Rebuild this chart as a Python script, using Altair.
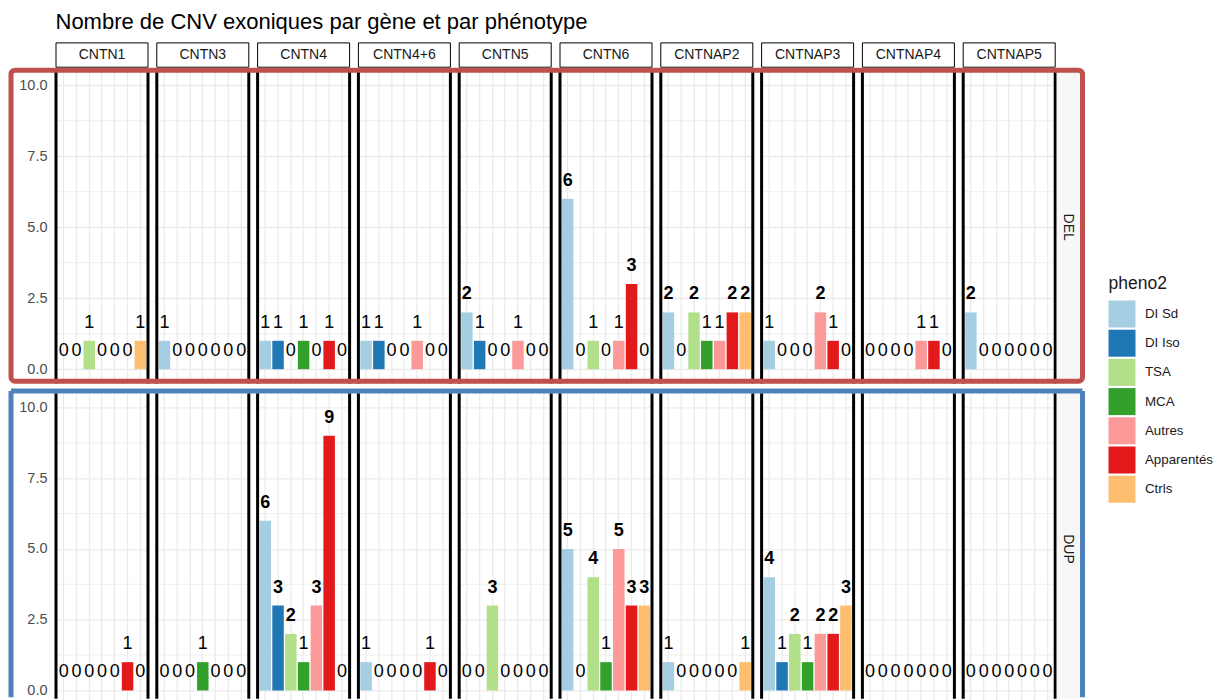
import altair as alt
import pandas as pd

genes = ["CNTN1", "CNTN3", "CNTN4", "CNTN4+6", "CNTN5", "CNTN6",
         "CNTNAP2", "CNTNAP3", "CNTNAP4", "CNTNAP5"]
phenos = ["DI Sd", "DI Iso", "TSA", "MCA", "Autres", "Apparentés", "Ctrls"]
pheno_colors = ["#A6CEE3", "#1F78B4", "#B2DF8A", "#33A02C",
                "#FB9A99", "#E31A1C", "#FDBF6F"]

del_counts = [
    [0, 0, 1, 0, 0, 0, 1],
    [1, 0, 0, 0, 0, 0, 0],
    [1, 1, 0, 1, 0, 1, 0],
    [1, 1, 0, 0, 1, 0, 0],
    [2, 1, 0, 0, 1, 0, 0],
    [6, 0, 1, 0, 1, 3, 0],
    [2, 0, 2, 1, 1, 2, 2],
    [1, 0, 0, 0, 2, 1, 0],
    [0, 0, 0, 0, 1, 1, 0],
    [2, 0, 0, 0, 0, 0, 0],
]
dup_counts = [
    [0, 0, 0, 0, 0, 1, 0],
    [0, 0, 0, 1, 0, 0, 0],
    [6, 3, 2, 1, 3, 9, 0],
    [1, 0, 0, 0, 0, 1, 0],
    [0, 0, 3, 0, 0, 0, 0],
    [5, 0, 4, 1, 5, 3, 3],
    [1, 0, 0, 0, 0, 0, 1],
    [4, 1, 2, 1, 2, 2, 3],
    [0, 0, 0, 0, 0, 0, 0],
    [0, 0, 0, 0, 0, 0, 0],
]
row_types = ["DEL", "DUP"]
y_ticks = [0, 2.5, 5, 7.5, 10]
y_minor = [1.25, 3.75, 6.25, 8.75]
title_text = "Nombre de CNV exoniques par gène et par phénotype"
legend_title = "pheno2"

rows = []
for t, counts in zip(row_types, [del_counts, dup_counts]):
    for g, vals in zip(genes, counts):
        for p, n in zip(phenos, vals):
            rows.append({"type": t, "gene": g, "pheno": p, "n": n})
df = pd.DataFrame(rows)

# ---- layout constants (pixels) ----
W = 92
SPACING = 8.8
STEP = W + SPACING
PX_DEL = 28.4
PX_DUP = 28.3
DOM_DEL = [-0.5, 10.5]
DOM_DUP = [-0.35, 10.5]
H_DEL = (DOM_DEL[1] - DOM_DEL[0]) * PX_DEL
H_DUP = (DOM_DUP[1] - DOM_DUP[0]) * PX_DUP
VSPACE = 3.3
L0 = 56.0
LAST_LEFT = L0 + 9 * STEP
T_DEL = 70.8
T_DUP = 392.85
BOX_L = 11.0
BOX_R = 1082.5

GRID = "#EBEBEB"
FONT = "Liberation Sans"

color_enc = alt.Color(
    "pheno:N", sort=phenos,
    scale=alt.Scale(domain=phenos, range=pheno_colors),
    legend=alt.Legend(
        title=legend_title, orient="none", legendX=1052.5, legendY=204,
        symbolType="square", symbolSize=729, symbolStrokeWidth=0,
        symbolOpacity=1, rowPadding=2.2, labelOffset=9.5,
        labelFontSize=13.3, labelColor="#1A1A1A", titleFontSize=17.5,
        titleFontWeight="normal", titleColor="#1A1A1A", titlePadding=8,
        labelFont=FONT, titleFont=FONT,
    ),
)

first = (alt.datum.pheno == phenos[0])


def make_row(t, dom, H, top):
    x_enc = alt.X(
        "pheno:N", sort=phenos, title=None,
        scale=alt.Scale(domain=phenos, paddingInner=0.1, paddingOuter=0.15),
        axis=alt.Axis(labels=False, ticks=False, domain=False, grid=True,
                      gridColor=GRID, gridWidth=1.3, title=None),
    )
    y_enc = alt.Y(
        "n:Q", title=None,
        scale=alt.Scale(domain=dom, nice=False, zero=False),
        axis=alt.Axis(values=y_ticks, format=".1f", ticks=False, domain=False,
                      grid=True, gridColor=GRID, gridWidth=1.3,
                      labelFontSize=14.5, labelColor="#4D4D4D", labelPadding=9,
                      labelFont=FONT, title=None),
    )
    side_bottom = H if top else H - 1.5
    base = alt.Chart()
    layers = []
    for v in y_minor:
        layers.append(
            base.mark_rule(color=GRID, strokeWidth=0.8)
            .encode(y=alt.datum(v))
            .transform_filter(first)
        )
    layers.append(
        base.mark_bar().encode(x=x_enc, y=y_enc, y2=alt.datum(0), color=color_enc)
        .transform_filter(alt.datum.n > 0)
    )
    layers.append(
        base.mark_text(fontSize=18, baseline="alphabetic", dy=-13, color="black",
                       font=FONT)
        .encode(x=x_enc, y=y_enc, text="n:Q")
        .transform_filter(alt.datum.n <= 1)
    )
    layers.append(
        base.mark_text(fontSize=18, baseline="alphabetic", dy=-13, color="black",
                       fontWeight="bold", font=FONT)
        .encode(x=x_enc, y=y_enc, text="n:Q")
        .transform_filter(alt.datum.n >= 2)
    )
    for xv in (0, W):
        layers.append(
            base.mark_rule(color="black", strokeWidth=3)
            .encode(x=alt.value(xv), y=alt.value(0), y2=alt.value(side_bottom))
            .transform_filter(first)
        )
    last = first & (alt.datum.gene == genes[-1])
    # row strip
    layers.append(
        base.mark_rect(fill="#F7F7F7")
        .encode(x=alt.value(W + 1.5), x2=alt.value(W + 25),
                y=alt.value(0), y2=alt.value(side_bottom))
        .transform_filter(last)
    )
    ymid = (10.5 - 5.0) * (PX_DEL if top else PX_DUP)
    layers.append(
        base.mark_text(fontSize=14, angle=90, baseline="middle", align="center",
                       color="#1A1A1A", font=FONT)
        .encode(text="type:N", x=alt.value(W + 13), y=alt.value(ymid))
        .transform_filter(last)
    )
    if top:
        layers.append(
            base.mark_rect(fill="white", stroke="black", strokeWidth=1)
            .encode(x=alt.value(0), x2=alt.value(W),
                    y=alt.value(42.7 - T_DEL), y2=alt.value(67.0 - T_DEL))
            .transform_filter(first)
        )
        layers.append(
            base.mark_text(fontSize=14, baseline="middle", align="center",
                           color="#1A1A1A", font=FONT)
            .encode(text="gene:N", x=alt.value(W / 2), y=alt.value(55.2 - T_DEL))
            .transform_filter(first)
        )
        layers.append(
            base.mark_text(fontSize=22, baseline="top", align="left",
                           color="black", font=FONT)
            .encode(text=alt.value(title_text), x=alt.value(-0.5),
                    y=alt.value(28.3 - 17 - T_DEL))
            .transform_filter(first & (alt.datum.gene == genes[0]))
        )
        layers.append(
            base.mark_rect(fillOpacity=0, stroke="#C0504D", strokeWidth=5,
                           cornerRadius=4)
            .encode(x=alt.value(BOX_L - LAST_LEFT), x2=alt.value(BOX_R - LAST_LEFT),
                    y=alt.value(70 - T_DEL), y2=alt.value(381 - T_DEL))
            .transform_filter(last)
        )
    else:
        BLUE = "#4F81BD"
        ytop = 390.5 - T_DUP
        layers.append(
            base.mark_rule(color=BLUE, strokeWidth=5)
            .encode(x=alt.value(BOX_L - LAST_LEFT), x2=alt.value(BOX_R - LAST_LEFT),
                    y=alt.value(ytop))
            .transform_filter(last)
        )
        for xv in (BOX_L - LAST_LEFT, BOX_R - LAST_LEFT):
            layers.append(
                base.mark_rule(color=BLUE, strokeWidth=5)
                .encode(x=alt.value(xv), y=alt.value(ytop), y2=alt.value(H - 3))
                .transform_filter(last)
            )
    sub = df[df["type"] == t]
    chart = alt.layer(*layers, data=sub).properties(width=W, height=H).facet(
        column=alt.Column("gene:N", sort=genes,
                          header=alt.Header(labels=False, title=None)),
        spacing=SPACING, bounds="flush",
    )
    return chart


top_row = make_row("DEL", DOM_DEL, H_DEL, True)
bot_row = make_row("DUP", DOM_DUP, H_DUP, False)

chart = (
    alt.vconcat(top_row, bot_row, spacing=VSPACE)
    .resolve_scale(y="independent")
    .properties(padding={"left": 0, "top": 2, "right": 0, "bottom": 0})
    .configure(font=FONT)
    .configure_view(strokeWidth=0)
)

chart.save("out.html", embed_options={"renderer": "svg", "actions": False})
